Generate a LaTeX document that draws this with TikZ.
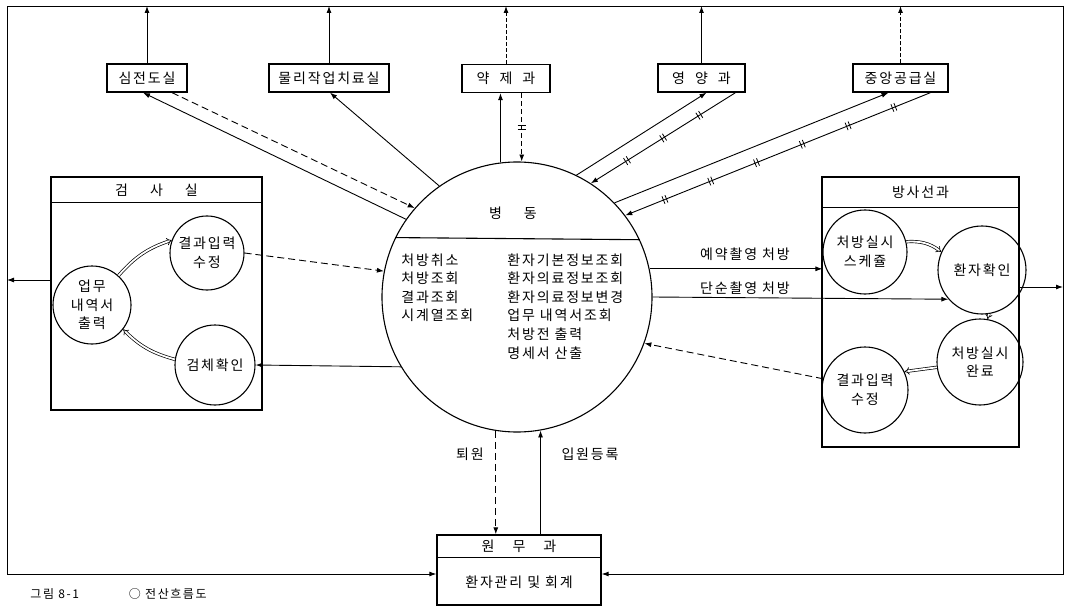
\documentclass[tikz,border=0pt]{standalone}
\usepackage{fontspec}
\newfontfamily\kr[LetterSpace=13]{Noto Sans CJK KR}
\usetikzlibrary{arrows.meta,decorations.markings,calc}
\begin{document}
\begin{tikzpicture}[x=1pt,y=-1pt,
  font=\kr\fontsize{14}{18.6}\selectfont,
  line width=0.9pt,
  arr/.style={-{Latex[length=7pt,width=5pt]}},
  dsh/.style={dash pattern=on 7pt off 4pt},
  tbox/.style={draw, line width=1.3pt, minimum height=28pt, inner sep=0pt},
  cont/.style={draw, line width=1.3pt, inner sep=0pt},
  proc/.style={draw, circle, line width=1.1pt, inner sep=0pt, align=center},
  dbl/.style={double, double distance=1.8pt, line width=0.7pt, -{Implies}},
  tick at/.style={postaction={decorate, decoration={markings,
     mark=at position #1 with {\draw[solid, line width=0.8pt, -] (-1.6pt,-4pt)--(-1.6pt,4pt) (1.6pt,-4pt)--(1.6pt,4pt);}}}}
]
\useasboundingbox (0,0) rectangle (1069,607);

% outer frame corners
\coordinate (TL) at (7,6);
\coordinate (TR) at (1063,6);
\coordinate (BL) at (7,574);
\coordinate (BR) at (1063,574);

% top boxes
\node[tbox, minimum width=80pt] (ecg) at (147,78) {심전도실};
\node[tbox, minimum width=120pt] (pt) at (329,78) {물리작업치료실};
\node[tbox, minimum width=88pt] (ph) at (506,78.5) {약\hspace{10pt}제\hspace{10pt}과};
\node[tbox, minimum width=87pt] (nut) at (701.5,78) {영\hspace{10pt}양\hspace{10pt}과};
\node[tbox, minimum width=95pt] (csr) at (900.5,78) {중앙공급실};

% central process
\node[draw, circle, minimum size=270pt, inner sep=0pt, line width=1.1pt] (bd) at (517,297) {};
\draw[line width=1.1pt] (bd.154.1) -- (bd.25.9);
\node (bdt) at (513,213) {병\hspace{22pt}동};
\node[anchor=north west, align=left, inner sep=0pt] (bdl) at (401,253)
  {처방취소\\처방조회\\결과조회\\시계열조회};
\node[anchor=north west, align=left, inner sep=0pt] (bdr) at (507,253)
  {환자기본정보조회\\환자의료정보조회\\환자의료정보변경\\업무 내역서조회\\처방전 출력\\명세서 산출};

% lab container
\node[cont, minimum width=211pt, minimum height=233pt] (lab) at (156.5,293.5) {};
\draw[line width=1.1pt] ($(lab.north west)+(0,26)$) -- ($(lab.north east)+(0,26)$);
\node (labt) at (156.5,190) {검\hspace{22pt}사\hspace{22pt}실};
\node[proc, minimum size=74pt] (res1) at (207,253) {결과입력\\수정};
\node[proc, minimum size=78pt] (work) at (92,305) {업무\\내역서\\출력};
\node[proc, minimum size=80pt] (spec) at (215,365) {검체확인};
\draw[dbl] (work.48) to[bend left=15] (res1.160);
\draw[dbl] (spec.172) to[bend left=15] (work.-38);

% radiology container
\node[cont, minimum width=197pt, minimum height=270pt] (rad) at (920.5,312) {};
\draw[line width=1.1pt] ($(rad.north west)+(0,31)$) -- ($(rad.north east)+(0,31)$);
\node (radt) at (920.5,192) {방사선과};
\node[proc, minimum size=84pt] (sch) at (865,252) {처방실시\\스케쥴};
\node[proc, minimum size=88pt] (hw) at (982,270) {환자확인};
\node[proc, minimum size=86pt] (done) at (980,362) {처방실시\\완료};
\node[proc, minimum size=86pt] (res2) at (865,390) {결과입력\\수정};
\draw[dbl] (sch.14) to[bend left=20] (hw.156);
\draw[dbl] (hw.-81) -- (done.80);
\draw[dbl] (done.187) -- (res2.25);

% admin box
\node[cont, minimum width=164pt, minimum height=70pt] (won) at (519,570) {};
\draw[line width=1.1pt] ($(won.north west)+(0,23)$) -- ($(won.north east)+(0,23)$);
\node (wont) at (519,546) {원\hspace{18pt}무\hspace{18pt}과};
\node (wonb) at (519,582) {환자관리 및 회계};

% frame
\draw (TR) -- (TL) -- (BL);
\draw[arr] (BL) -- (won.west |- BL);
\draw[arr] (TR) -- (BR) -- (won.east |- BR);

% top outputs to frame
\draw[arr] (ecg.north) -- (ecg.north |- TL);
\draw[arr] (pt.north) -- (pt.north |- TL);
\draw[arr, dash pattern=on 4pt off 2pt] (ph.north) -- (ph.north |- TL);
\draw[arr] (nut.north) -- (nut.north |- TL);
\draw[arr, dash pattern=on 4pt off 2pt] (csr.north) -- (csr.north |- TL);

% side outputs to frame
\coordinate (lo) at (51,280);
\coordinate (ro) at (1019,287);
\draw[arr] (lo) -- (lo -| TL);
\draw[arr] (ro) -- (ro -| TR);

% ward <-> top boxes
\draw[arr] (bd.145.5) -- ($(ecg.south)+(-4,0)$);
\draw[arr, dsh] ($(ecg.south)+(25,0)$) -- (bd.139.6);
\draw[arr] (bd.125.2) -- ($(pt.south)+(1,0)$);
\draw[arr] (bd.97.66) -- (bd.97.66 |- ph.south);
\draw[arr, dash pattern=on 5pt off 3pt, tick at=0.5] (bd.88.7 |- ph.south) -- (bd.88.7);
\draw[arr] (bd.64.2) -- ($(nut.south)+(5,0)$);
\draw[arr, tick at=0.25, tick at=0.5, tick at=0.75] ($(nut.south)+(34,0)$) -- (bd.57.6);
\draw[arr] (bd.44.1) -- ($(csr.south)+(-12,0)$);
\draw[arr, tick at=0.12, tick at=0.27, tick at=0.42, tick at=0.57, tick at=0.72, tick at=0.87]
  ($(csr.south)+(30,0)$) -- (bd.37.9);

% ward <-> lab
\draw[arr, dsh] (res1.east) -- (bd.169.8);
\draw[arr] (bd.211.2) -- (spec.east);

% ward <-> radiology
\draw[arr] (bd.12.4) -- (bd.12.4 -| sch.west);
\draw[arr] (bd.-0.85) -- (hw.221.2);
\draw[arr, dsh] (res2.165) -- (bd.-20.6);
\node (l1) at (745,254) {예약촬영 처방};
\node (l2) at (745,288) {단순촬영 처방};

% ward <-> admin
\draw[arr, dsh] (bd.261.5) -- (bd.261.5 |- won.north);
\draw[arr] (bd.280.7 |- won.north) -- (bd.280.7);
\node (l3) at (470,454) {퇴원};
\node (l4) at (590,454) {입원등록};

% caption
\node[anchor=north west, inner sep=0pt, font=\kr\fontsize{12}{14}\selectfont] (cap) at (30,588) {그림 8-1\hspace{50pt}○ 전산흐름도};
\end{tikzpicture}
\end{document}
